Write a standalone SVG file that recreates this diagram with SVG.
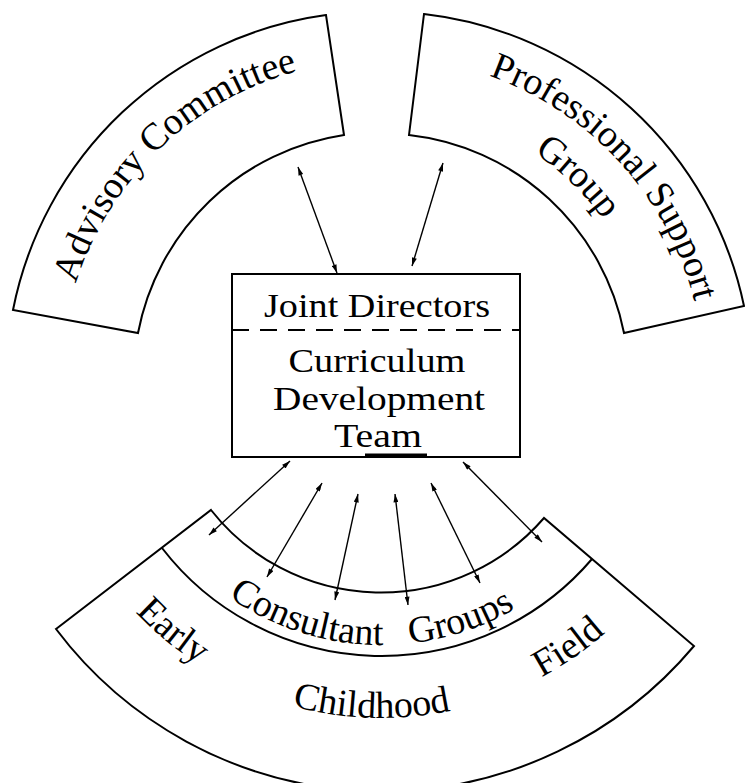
<svg xmlns="http://www.w3.org/2000/svg" width="745" height="783" viewBox="0 0 745 783">
<style>
  .band { fill: #fff; stroke: #000; stroke-width: 2; stroke-linejoin: miter; }
  .div { fill: none; stroke: #000; stroke-width: 2; }
  .box { fill: #fff; stroke: #000; stroke-width: 2; }
  .dash { stroke: #000; stroke-width: 2.2; stroke-dasharray: 17 11; }
  .lbl { font-family: "Liberation Serif", "Times New Roman", serif; font-size: 38px; fill: #000; }
  .boxt { font-family: "Liberation Serif", "Times New Roman", serif; font-size: 33px; fill: #000; text-anchor: middle; }
  .arr { stroke: #000; stroke-width: 1.4; fill: none; marker-start: url(#ah); marker-end: url(#ah); }
</style>
<defs>
  <marker id="ah" viewBox="0 0 10 6" refX="10" refY="3" markerWidth="9" markerHeight="5" orient="auto-start-reverse" markerUnits="userSpaceOnUse">
    <path d="M0,0 L10,3 L0,6 z" fill="#000"/>
  </marker>
  <path id="pTop" d="M61,380 A320,320 0 0 1 701,380"/>
  <path id="pProf" d="M58,380 A323,323 0 0 1 704,380"/>
  <path id="pGroup" d="M107,380 A274,274 0 0 1 655,380"/>
  <path id="pCons" d="M116,380 A265,265 0 0 0 646,380"/>
  <path id="pField" d="M43,380 A338,338 0 0 0 719,380"/>
</defs>

<g id="advisory-committee">
  <path class="band" d="M13,310 A370,370 0 0 1 326,15 L344,135 A247,247 0 0 0 138,333 Z"/>
  <text class="lbl"><textPath href="#pTop" startOffset="258" text-anchor="middle">Advisory Committee</textPath></text>
</g>

<g id="professional-support-group">
  <path class="band" d="M424,14 A370,370 0 0 1 744,306 L624,333 A247,247 0 0 0 409,135 Z"/>
  <text class="lbl"><textPath href="#pProf" startOffset="776" text-anchor="middle">Professional Support</textPath></text>
  <text class="lbl"><textPath href="#pGroup" startOffset="641" text-anchor="middle">Group</textPath></text>
</g>

<g id="early-childhood-field">
  <path class="band" d="M56,629 L211,510 A216,216 0 0 0 544,518 L694,646 A408,408 0 0 1 56,629 Z"/>
  <text class="lbl"><textPath href="#pField" startOffset="297" text-anchor="middle">Early</textPath></text>
  <text class="lbl"><textPath href="#pField" startOffset="521" text-anchor="middle">Childhood</textPath></text>
  <text class="lbl"><textPath href="#pField" startOffset="737" text-anchor="middle">Field</textPath></text>
</g>

<g id="consultant-groups">
  <path class="div" d="M162,548 A277,277 0 0 0 592,559"/>
  <text class="lbl"><textPath href="#pCons" startOffset="336" text-anchor="middle">Consultant</textPath></text>
  <text class="lbl"><textPath href="#pCons" startOffset="501" text-anchor="middle">Groups</textPath></text>
</g>

<g id="joint-directors-team">
  <rect class="box" x="232" y="274" width="288" height="183"/>
  <line class="dash" x1="232" y1="330" x2="520" y2="330"/>
  <text class="boxt" x="377" y="317" textLength="226" lengthAdjust="spacingAndGlyphs">Joint Directors</text>
  <text class="boxt" x="377" y="372" textLength="177" lengthAdjust="spacingAndGlyphs">Curriculum</text>
  <text class="boxt" x="379" y="410" textLength="212" lengthAdjust="spacingAndGlyphs">Development</text>
  <text class="boxt" x="378" y="447" textLength="88" lengthAdjust="spacingAndGlyphs">Team</text>
  <line x1="365" y1="455" x2="427" y2="455" stroke="#000" stroke-width="3"/>
</g>

<g id="connectors">
  <line class="arr" x1="298" y1="167" x2="337" y2="273"/>
  <line class="arr" x1="443" y1="163" x2="412" y2="266"/>
  <line class="arr" x1="290" y1="461" x2="209" y2="535"/>
  <line class="arr" x1="322" y1="483" x2="267" y2="577"/>
  <line class="arr" x1="358" y1="494" x2="335" y2="600"/>
  <line class="arr" x1="395" y1="494" x2="408" y2="605"/>
  <line class="arr" x1="431" y1="483" x2="480" y2="583"/>
  <line class="arr" x1="463" y1="462" x2="542" y2="542"/>
</g>
</svg>
